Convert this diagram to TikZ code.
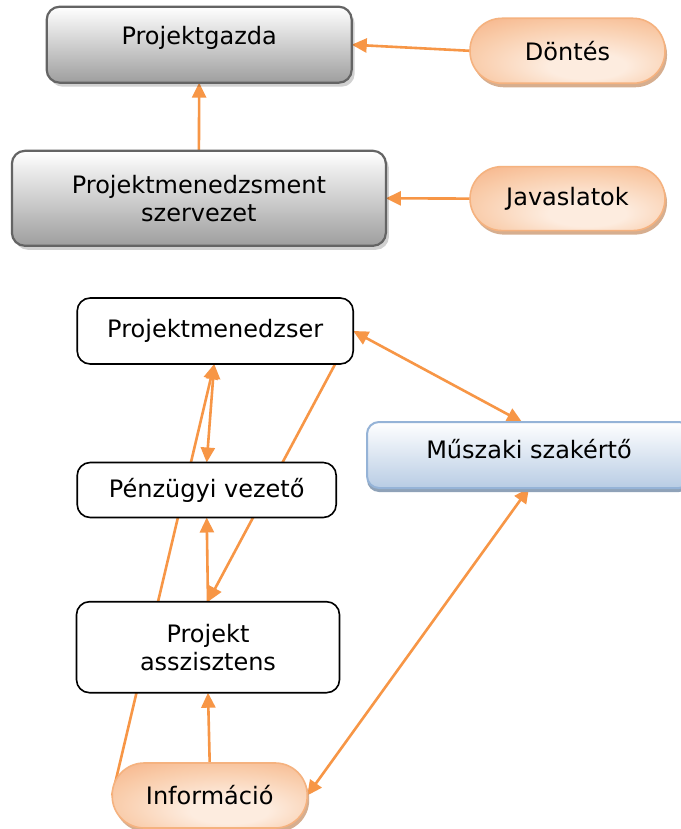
\documentclass[tikz,border=0pt]{standalone}
\usepackage{fontspec}
\setmainfont{DejaVu Sans}
\usetikzlibrary{arrows.meta,shadows,backgrounds}
\definecolor{orA}{HTML}{F79646}
\definecolor{grayBd}{HTML}{646464}
\definecolor{grayBot}{HTML}{9E9E9E}
\definecolor{pillBd}{HTML}{F5B27F}
\definecolor{pillTop}{HTML}{F6B083}
\definecolor{pillMid}{HTML}{F9CCAA}
\definecolor{pillBot}{HTML}{FDECDF}
\definecolor{pillSh}{HTML}{CFA07C}
\definecolor{blueBd}{HTML}{95B3D7}
\definecolor{blueBot}{HTML}{B8CCE4}
\definecolor{blueSh}{HTML}{8FA2B8}
\pgfdeclareradialshading{pillshade}{\pgfpoint{6bp}{-14bp}}{%
  color(0bp)=(pillBot); color(10bp)=(pillBot); color(28bp)=(pillMid);
  color(42bp)=(pillTop); color(60bp)=(pillTop)}
\begin{document}
\begin{tikzpicture}[x=1pt,y=-1pt,
  font=\fontsize{24}{28}\selectfont,
  every node/.style={inner sep=0pt,outer sep=0pt,align=center},
  graybox/.style={draw=grayBd,line width=2.2pt,rounded corners=13pt,
    top color=white,bottom color=grayBot,
    drop shadow={shadow xshift=3pt,shadow yshift=-4pt,fill=black,opacity=0.18}},
  pill/.style={draw=pillBd,line width=1.6pt,rounded corners=32pt,
    shading=pillshade,
    minimum width=195pt,minimum height=65pt,
    drop shadow={shadow xshift=2pt,shadow yshift=-4pt,fill=pillSh,opacity=0.85}},
  whitebox/.style={draw=black,line width=1.6pt,rounded corners=13pt,fill=white},
  bluebox/.style={draw=blueBd,line width=2pt,rounded corners=12pt,
    top color=white,bottom color=blueBot,
    drop shadow={shadow xshift=0pt,shadow yshift=-4pt,fill=blueSh,opacity=1}},
  conn/.style={draw=orA,line width=2.6pt,-{Triangle[length=15pt,width=14pt]}},
  dconn/.style={draw=orA,line width=2.6pt,{Triangle[length=15pt,width=14pt]}-{Triangle[length=15pt,width=14pt]}}
]
\useasboundingbox (0,0) rectangle (680,829);
\begin{pgfonlayer}{background}
\fill[white] (0,0) rectangle (680,829);
\end{pgfonlayer}

% upper part
\node[graybox,minimum width=305pt,minimum height=76pt] (pg) at (199.2,44.7) {};
\node[anchor=base] (pgt) at (199.2,44.3) {Projektgazda};
\node[graybox,minimum width=374pt,minimum height=95pt] (pms) at (198.9,198.3) {Projektmenedzsment\\szervezet};
\node[pill] (dontes) at (567.5,50.8) {Döntés};
\node[pill,minimum height=64pt] (jav) at (567.5,198.6) {Javaslatok};

% lower part
\node[whitebox,minimum width=276pt,minimum height=66pt] (pm) at (215.2,331) {Projektmenedzser};
\node[whitebox,minimum width=259pt,minimum height=55pt] (pv) at (206.7,490) {Pénzügyi vezető};
\node[whitebox,minimum width=263pt,minimum height=91pt] (pa) at (208,647.2) {Projekt\\asszisztens};
\node[bluebox,minimum width=324pt,minimum height=66pt] (ms) at (529,455) {};
\node[anchor=base] (mst) at (529,458) {Műszaki szakértő};
\node[pill] (info) at (209.7,795.5) {Információ};

\begin{pgfonlayer}{background}
\draw[conn] (pms.north) -- (pg.south);
\draw[conn] (dontes.west) -- (pg.east);
\draw[conn] (jav.west) -- (pms.east);
\draw[dconn] (pv.north) -- ([xshift=-1pt]pm.south);
\draw[conn] (info.west) -- ([xshift=-1pt]pm.south);
\draw[conn] ([xshift=-18pt]pm.south east) -- (pa.north);
\draw[conn] (pa.north) -- (pv.south);
\draw[conn] (info.north) -- (pa.south);
\draw[dconn] (pm.east) -- ([xshift=-7pt]ms.north);
\draw[dconn] (info.east) -- (ms.south);
\end{pgfonlayer}
\end{tikzpicture}
\end{document}
